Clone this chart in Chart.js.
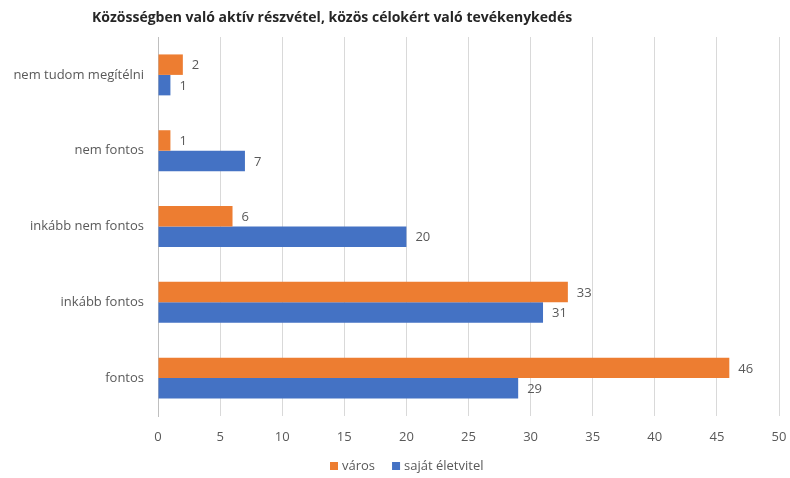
<!DOCTYPE html>
<html>
<head>
<meta charset="utf-8">
<script src="https://cdn.jsdelivr.net/npm/chart.js@4/dist/chart.umd.min.js"></script>
<style>
  html, body { margin: 0; padding: 0; background: #fff; }
  #wrap { width: 790px; height: 478px; }
</style>
</head>
<body>
<div id="wrap"><canvas id="chart" width="790" height="478"></canvas></div>
<script>
const chartTitle = 'Közösségben való aktív részvétel, közös célokért való tevékenykedés';
const categories = ['nem tudom megítélni', 'nem fontos', 'inkább nem fontos', 'inkább fontos', 'fontos'];
const seriesNames = ['város', 'saját életvitel'];
const varosValues = [2, 1, 6, 33, 46];
const eletvitelValues = [1, 7, 20, 31, 29];
const seriesColors = ['#ED7D31', '#4472C4'];
const xMin = 0, xMax = 50, xStep = 5;

const textColor = '#595959';
const fontFamily = '"Open Sans", "Noto Sans", sans-serif';

// value labels at the end of each bar, title and legend
const extrasPlugin = {
    id: 'extras',
    afterDatasetsDraw(chart) {
        const ctx = chart.ctx;
        ctx.save();
        ctx.fillStyle = textColor;
        ctx.font = '13px ' + fontFamily;
        ctx.textBaseline = 'middle';
        ctx.textAlign = 'left';
        chart.data.datasets.forEach((ds, i) => {
            chart.getDatasetMeta(i).data.forEach((bar, j) => {
                ctx.fillText(String(ds.data[j]), bar.x + 9, bar.y + 1);
            });
        });

        // title
        ctx.font = 'bold 14px ' + fontFamily;
        ctx.fillStyle = '#262626';
        ctx.fillText(chartTitle, 92, 18);

        // legend
        ctx.font = '13px ' + fontFamily;
        let x = 330;
        const y = 466;
        seriesNames.forEach((name, i) => {
            ctx.fillStyle = seriesColors[i];
            ctx.fillRect(x, y - 4, 8, 8);
            ctx.fillStyle = textColor;
            ctx.fillText(name, x + 12, y);
            x += 12 + ctx.measureText(name).width + 17;
        });
        ctx.restore();
    }
};

new Chart(document.getElementById('chart'), {
    type: 'bar',
    data: {
        labels: categories,
        datasets: [
            { label: seriesNames[0], data: varosValues, backgroundColor: seriesColors[0] },
            { label: seriesNames[1], data: eletvitelValues, backgroundColor: seriesColors[1] }
        ]
    },
    options: {
        indexAxis: 'y',
        responsive: false,
        animation: false,
        layout: { padding: { top: 37, right: 11, bottom: 22, left: 0 } },
        datasets: { bar: { categoryPercentage: 0.54, barPercentage: 1 } },
        plugins: {
            legend: { display: false },
            title: { display: false },
            tooltip: { enabled: false }
        },
        scales: {
            x: {
                min: xMin,
                max: xMax,
                ticks: { stepSize: xStep, color: textColor, font: { family: fontFamily, size: 13 }, padding: 13 },
                grid: { color: '#d9d9d9', drawTicks: false },
                border: { display: false },
                afterFit(scale) {
                    scale.height = 40;
                    scale.paddingLeft = 0;
                    scale.paddingRight = 0;
                }
            },
            y: {
                ticks: { color: textColor, font: { family: fontFamily, size: 13 }, padding: 6 },
                grid: { display: false },
                border: { color: '#bfbfbf' },
                afterFit(scale) { scale.width = 158; }
            }
        }
    },
    plugins: [extrasPlugin]
});
</script>
</body>
</html>
